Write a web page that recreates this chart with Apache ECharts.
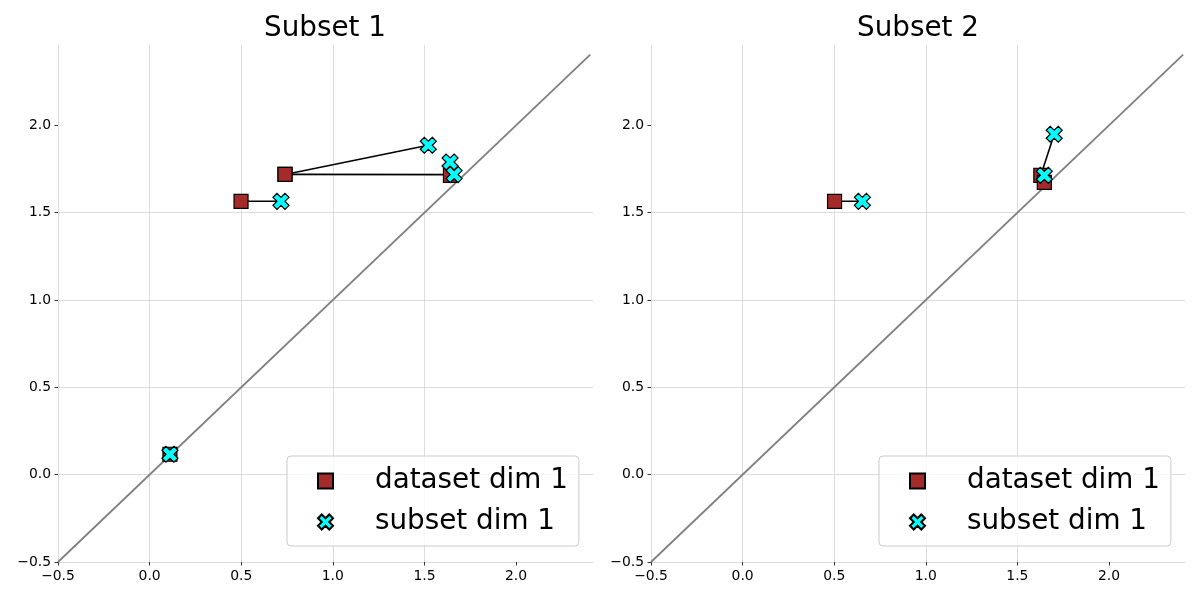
<!DOCTYPE html>
<html lang="en">
  <head>
    <meta charset="UTF-8" />
    <title>Subsets</title>
    <script src="https://cdn.jsdelivr.net/npm/echarts@6/dist/echarts.min.js"></script>
  </head>
  <body style="margin: 0">
    <div id="main" style="width: 1200px; height: 600px"></div>
    <script>
      // values
      const titles = ['Subset 1', 'Subset 2'];
      const legendNames = ['dataset dim 1', 'subset dim 1'];
      const tickValues = [-0.5, 0, 0.5, 1.0, 1.5, 2.0];
      const diagonal = [[-0.5, -0.5], [2.405, 2.405]];

      const datasetPts1 = [[0.499, 1.565], [0.739, 1.719], [0.739, 1.719], [1.642, 1.714], [0.111, 0.117]];
      const subsetPts1 = [[0.717, 1.565], [1.521, 1.886], [1.662, 1.718], [1.640, 1.790], [0.111, 0.117]];
      const datasetPts2 = [[0.502, 1.565], [1.628, 1.714], [1.647, 1.674]];
      const subsetPts2 = [[0.654, 1.565], [1.701, 1.949], [1.647, 1.714]];

      const panels = [
        { dataset: datasetPts1, subset: subsetPts1, xMax: 2.42 },
        { dataset: datasetPts2, subset: subsetPts2, xMax: 2.415 },
      ];

      const font = 'DejaVu Sans';
      const crossPath = 'path://M6,0L8,2L6,4L8,6L6,8L4,6L2,8L0,6L2,4L0,2L2,0L4,2Z';
      const grids = [
        { left: 58, right: 607, top: 45, bottom: 38 },
        { left: 651, right: 15, top: 45, bottom: 38 },
      ];

      function fmt(v) {
        return v < 0 ? '\u2212' + Math.abs(v).toFixed(1) : v.toFixed(1);
      }

      function axis(i, max) {
        return {
          type: 'value',
          gridIndex: i,
          min: -0.5,
          max: max,
          axisLine: { show: false, onZero: false },
          axisTick: {
            show: true,
            length: 3.5,
            customValues: tickValues,
            lineStyle: { color: '#000', width: 0.8 },
          },
          axisLabel: {
            customValues: tickValues,
            formatter: fmt,
            color: '#000',
            fontFamily: font,
            fontSize: 13.9,
            margin: 7,
          },
          splitLine: {
            show: true,
            showMaxLine: false,
            lineStyle: { color: '#d3d3d3', width: 0.8 },
          },
        };
      }

      let xAxes = [];
      let yAxes = [];
      let titleOpts = [];
      let legends = [];
      let series = [];

      panels.forEach(function (p, i) {
        const g = grids[i];
        xAxes.push(axis(i, p.xMax));
        yAxes.push(axis(i, 2.46));
        titleOpts.push({
          text: titles[i],
          left: i === 0 ? 320 : 913,
          top: 10,
          textAlign: 'center',
          textStyle: { fontFamily: font, fontSize: 27.8, fontWeight: 'normal', color: '#000' },
        });
        legends.push({
          data: legendNames,
          orient: 'vertical',
          left: i === 0 ? 287 : 879,
          top: 456,
          padding: [9, 11, 8, 30],
          itemGap: 9,
          itemWidth: 15,
          itemHeight: 15,
          backgroundColor: 'rgba(255,255,255,0.8)',
          borderColor: '#cccccc',
          borderWidth: 1,
          borderRadius: 4,
          selectedMode: false,
          textStyle: {
            fontFamily: font,
            fontSize: 27.8,
            lineHeight: 32,
            color: '#000',
            padding: [0, 0, 0, 37],
          },
        });
        series.push({
          type: 'line',
          xAxisIndex: i,
          yAxisIndex: i,
          data: diagonal,
          symbol: 'none',
          silent: true,
          lineStyle: { color: '#808080', width: 1.8 },
          z: 1,
        });
        p.dataset.forEach(function (d, k) {
          series.push({
            type: 'line',
            xAxisIndex: i,
            yAxisIndex: i,
            data: [d, p.subset[k]],
            symbol: 'none',
            silent: true,
            lineStyle: { color: '#000', width: 1.6 },
            z: 2,
          });
        });
        series.push({
          name: legendNames[0],
          type: 'scatter',
          xAxisIndex: i,
          yAxisIndex: i,
          data: p.dataset,
          symbol: 'rect',
          symbolSize: 14,
          itemStyle: { color: '#a52a2a', borderColor: '#000', borderWidth: 1.2, opacity: 1 },
          z: 3,
        });
        series.push({
          name: legendNames[1],
          type: 'scatter',
          xAxisIndex: i,
          yAxisIndex: i,
          data: p.subset,
          symbol: crossPath,
          symbolSize: 16,
          itemStyle: { color: '#00ffff', borderColor: '#000', borderWidth: 1.2, opacity: 1 },
          z: 4,
        });
      });

      let myChart = echarts.init(document.getElementById('main'));
      myChart.setOption({
        animation: false,
        backgroundColor: '#fff',
        title: titleOpts,
        legend: legends,
        grid: grids,
        xAxis: xAxes,
        yAxis: yAxes,
        series: series,
      });
    </script>
  </body>
</html>
